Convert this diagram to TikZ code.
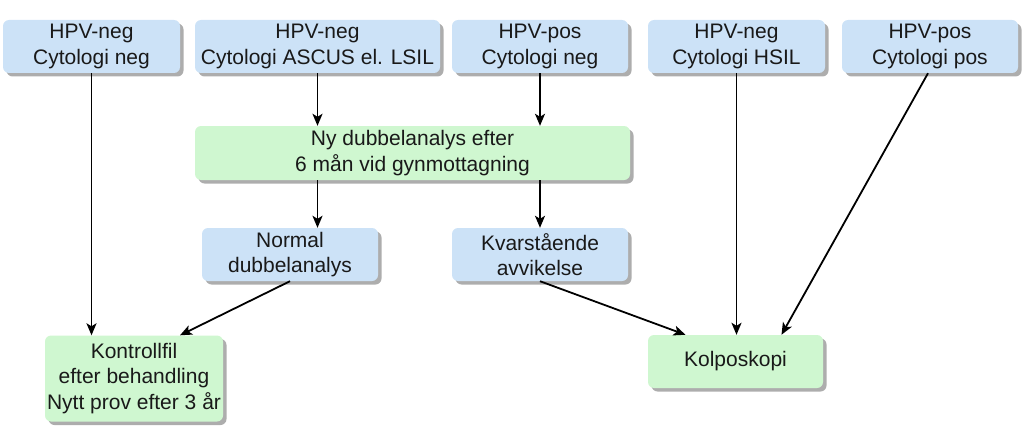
\documentclass[tikz,border=0pt]{standalone}
\usepackage{fontspec}
\setmainfont{Liberation Sans}
\usetikzlibrary{shadows,arrows.meta,calc}
\definecolor{bluebox}{HTML}{CCE2F7}
\definecolor{greenbox}{HTML}{CFF7D0}
\tikzset{
  box/.style={rounded corners=6pt, draw=none, align=center, inner sep=0pt,
    font=\fontsize{21}{25.5}\selectfont, text=black!90,
    drop shadow={shadow xshift=3.5pt, shadow yshift=-3.5pt, fill=black!40, opacity=0.8}},
  bbox/.style={box, fill=bluebox},
  gbox/.style={box, fill=greenbox},
  arr/.style={-{Stealth[length=12pt,width=10pt,inset=3pt]}, line width=1.8pt, black}
}
\begin{document}
\begin{tikzpicture}[x=1pt,y=1pt]
\useasboundingbox (0,0) rectangle (1023,-436);
\node[bbox, minimum width=177pt, minimum height=53pt] (b1) at (91.5,-46.5) {HPV-neg\\Cytologi neg};
\node[bbox, minimum width=245pt, minimum height=53pt] (b2) at (317.5,-46.5) {HPV-neg\\Cytologi ASCUS el. LSIL};
\node[bbox, minimum width=176pt, minimum height=53pt] (b3) at (540,-46.5) {HPV-pos\\Cytologi neg};
\node[bbox, minimum width=177pt, minimum height=53pt] (b4) at (736.5,-46.5) {HPV-neg\\Cytologi HSIL};
\node[bbox, minimum width=176pt, minimum height=53pt] (b5) at (930,-46.5) {HPV-pos\\Cytologi pos};
\node[gbox, minimum width=435pt, minimum height=54pt] (ny) at (412.5,-153) {Ny dubbelanalys efter\\6 mån vid gynmottagning};
\node[bbox, minimum width=176pt, minimum height=53pt] (normal) at (290,-254.5) {Normal\\dubbelanalys};
\node[bbox, minimum width=176pt, minimum height=53pt] (kvar) at (540,-254.5) {Kvarstående\\avvikelse};
\node[gbox, minimum width=178pt, minimum height=86pt] (kon) at (134,-378.5) {Kontrollfil\\efter behandling\\Nytt prov efter 3 år};
\node[gbox, minimum width=175pt, minimum height=53pt] (kol) at (735.5,-361.5) {Kolposkopi};

\draw[arr] (b1.south) -- (b1.south |- kon.north);
\draw[arr] (b2.south) -- (b2.south |- ny.north);
\draw[arr] (b3.south) -- (b3.south |- ny.north);
\draw[arr] (ny.south -| b2.south) -- (normal.north -| b2.south);
\draw[arr] (ny.south -| kvar.north) -- (kvar.north);
\draw[arr] (normal.south) -- ([xshift=46pt]kon.north);
\draw[arr] (kvar.south) -- ([xshift=-50pt]kol.north);
\draw[arr] (b4.south) -- (b4.south |- kol.north);
\draw[arr] ([xshift=-2pt]b5.south) -- ([xshift=46pt]kol.north);
\end{tikzpicture}
\end{document}
